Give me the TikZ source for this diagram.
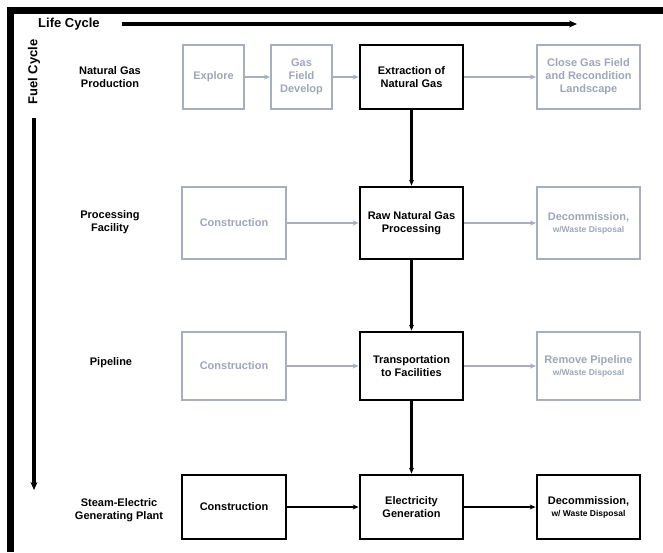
\documentclass[tikz,border=0pt]{standalone}
\usepackage{fontspec}
\setmainfont{Liberation Sans}
\usetikzlibrary{arrows.meta}
\definecolor{gbox}{RGB}{168,174,192}
\definecolor{gtext}{RGB}{158,166,184}
\begin{document}
\begin{tikzpicture}[x=1pt,y=-1pt,
  font=\fontsize{11}{13}\selectfont\bfseries,
  gbox/.style={draw=gbox, line width=2pt, text=gtext, align=center, inner sep=0pt},
  bbox/.style={draw=black, line width=2.8pt, text=black, align=center, inner sep=0pt},
  rowlabel/.style={align=center, inner sep=0pt, font=\fontsize{11}{13}\selectfont\bfseries},
  garr/.style={draw=gbox, line width=2pt, -{Stealth[length=6pt,width=5pt]}},
  barr/.style={draw=black, line width=2pt, -{Stealth[length=6pt,width=5pt]}},
  varr/.style={draw=black, line width=2.4pt, -{Stealth[length=6pt,width=5pt]}}]
\useasboundingbox (0,0) rectangle (663,552);
\fill[white] (0,0) rectangle (663,552);
% frame
\fill[black] (7,7) rectangle (663,14);
\fill[black] (7,7) rectangle (14,552);
% axes
\node[anchor=west, inner sep=0pt, font=\fontsize{13}{15}\selectfont\bfseries] (lc) at (38,24) {Life Cycle};
\coordinate (lcs) at (122,24);
\coordinate (lce) at (577,24);
\draw[line width=3.2pt, -{Stealth[length=8pt,width=7pt]}] (lcs) -- (lce);
\node[rotate=90, inner sep=0pt, font=\fontsize{13}{15}\selectfont\bfseries] (fc) at (34,72) {Fuel Cycle};
\coordinate (fcs) at (34,118);
\coordinate (fce) at (34,490);
\draw[line width=3.2pt, -{Stealth[length=8pt,width=7pt]}] (fcs) -- (fce);
% row labels
\node[rowlabel] (l1) at (110,77) {Natural Gas\\Production};
\node[rowlabel] (l2) at (110,222) {Processing\\Facility};
\node[rowlabel] (l3) at (111,363) {Pipeline};
\node[rowlabel] (l4) at (119,510) {Steam-Electric\\Generating Plant};
% row 1
\node[gbox, minimum width=61pt, minimum height=64pt] (explore) at (213.5,77) {Explore};
\node[gbox, minimum width=61pt, minimum height=64pt] (develop) at (301.5,77) {Gas\\Field\\Develop};
\node[bbox, minimum width=103pt, minimum height=64pt] (extract) at (411.5,77) {Extraction of\\Natural Gas};
\node[gbox, minimum width=103pt, minimum height=64pt] (close) at (588.5,77) {Close Gas Field\\and Recondition\\Landscape};
% row 2
\node[gbox, minimum width=104pt, minimum height=72pt] (con2) at (234,223) {Construction};
\node[bbox, minimum width=103pt, minimum height=72pt] (proc) at (411.5,223) {Raw Natural Gas\\Processing};
\node[gbox, minimum width=103pt, minimum height=72pt] (dec2) at (588.5,223) {Decommission,\\[-1pt]{\fontsize{8.5}{10}\selectfont w/Waste Disposal}};
% row 3
\node[gbox, minimum width=104pt, minimum height=68pt] (con3) at (234,366) {Construction};
\node[bbox, minimum width=103pt, minimum height=68pt] (trans) at (411.5,366) {Transportation\\to Facilities};
\node[gbox, minimum width=103pt, minimum height=68pt] (rem) at (588.5,366) {Remove Pipeline\\[-1pt]{\fontsize{8.5}{10}\selectfont w/Waste Disposal}};
% row 4
\node[bbox, minimum width=104pt, minimum height=64pt] (con4) at (234,507) {Construction};
\node[bbox, minimum width=103pt, minimum height=64pt] (elec) at (411.5,507) {Electricity\\Generation};
\node[bbox, minimum width=103pt, minimum height=64pt] (dec4) at (588.5,507) {Decommission,\\[-1pt]{\fontsize{8.5}{10}\selectfont w/ Waste Disposal}};
% connectors
\draw[garr] (explore) -- (develop);
\draw[garr] (develop) -- (extract);
\draw[garr] (extract) -- (close);
\draw[garr] (con2) -- (proc);
\draw[garr] (proc) -- (dec2);
\draw[garr] (con3) -- (trans);
\draw[garr] (trans) -- (rem);
\draw[barr] (con4) -- (elec);
\draw[barr] (elec) -- (dec4);
\draw[varr] (extract) -- (proc);
\draw[varr] (proc) -- (trans);
\draw[varr] (trans) -- (elec);
\end{tikzpicture}
\end{document}
